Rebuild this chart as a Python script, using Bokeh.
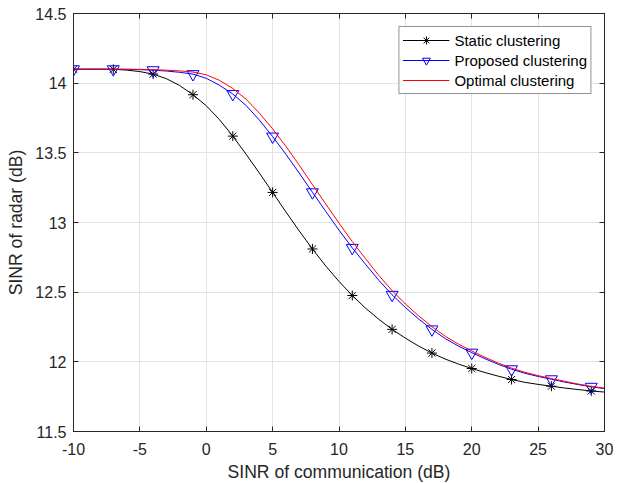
from bokeh.plotting import figure
from bokeh.models import LinearAxis, FixedTicker, Range1d, Legend, LegendItem, Title
from bokeh.embed import file_html
from bokeh.resources import INLINE

# ---- data ----
snr_db = list(range(-10, 31))  # SINR of communication (dB), 1 dB steps

static_clustering = [
    14.100, 14.100, 14.100, 14.099, 14.094, 14.083, 14.065, 14.032, 13.983, 13.917,
    13.838, 13.738, 13.620, 13.490, 13.355, 13.216, 13.076, 12.940, 12.810, 12.688,
    12.577, 12.476, 12.385, 12.305, 12.233, 12.170, 12.113, 12.063, 12.020, 11.984,
    11.952, 11.923, 11.897, 11.873, 11.853, 11.838, 11.825, 11.812, 11.801, 11.791,
    11.783,
]
proposed_clustering = [
    14.100, 14.100, 14.100, 14.100, 14.099, 14.097, 14.093, 14.087, 14.078, 14.065,
    14.035, 13.985, 13.922, 13.840, 13.735, 13.617, 13.490, 13.355, 13.217, 13.080,
    12.945, 12.818, 12.700, 12.585, 12.481, 12.390, 12.307, 12.233, 12.167, 12.113,
    12.066, 12.022, 11.982, 11.947, 11.918, 11.895, 11.875, 11.855, 11.837, 11.821,
    11.808,
]
optimal_clustering = [
    14.100, 14.100, 14.100, 14.100, 14.100, 14.099, 14.097, 14.093, 14.088, 14.080,
    14.060, 14.020, 13.962, 13.885, 13.785, 13.672, 13.547, 13.412, 13.272, 13.133,
    12.995, 12.863, 12.740, 12.620, 12.511, 12.415, 12.330, 12.253, 12.184, 12.127,
    12.078, 12.032, 11.991, 11.955, 11.925, 11.901, 11.880, 11.860, 11.841, 11.824,
    11.811,
]

x_ticks = [-10, -5, 0, 5, 10, 15, 20, 25, 30]
x_tick_labels = ["-10", "-5", "0", "5", "10", "15", "20", "25", "30"]
y_ticks = [11.5, 12.0, 12.5, 13.0, 13.5, 14.0, 14.5]
y_tick_labels = ["11.5", "12", "12.5", "13", "13.5", "14", "14.5"]

series_names = ["Static clustering", "Proposed clustering", "Optimal clustering"]
x_label = "SINR of communication (dB)"
y_label = "SINR of radar (dB)"

# markers every 3 dB (from -10 to 29)
marker_x = snr_db[0:40:3]
static_m = static_clustering[0:40:3]
proposed_m = proposed_clustering[0:40:3]

FONT = "Liberation Sans"
DARK = "#262626"

p = figure(
    width=621, height=483,
    x_range=Range1d(-10, 30), y_range=Range1d(11.5, 14.5),
    output_backend="svg", toolbar_location=None,
    min_border_left=73, min_border_right=17, min_border_top=13, min_border_bottom=50,
    y_axis_label=y_label,
)
p.background_fill_color = "white"
p.border_fill_color = "white"
p.outline_line_color = DARK
p.outline_line_width = 1

for ax, ticks, labels in ((p.xaxis[0], x_ticks, x_tick_labels), (p.yaxis[0], y_ticks, y_tick_labels)):
    ax.ticker = FixedTicker(ticks=ticks)
    ax.major_label_overrides = {t: l for t, l in zip(ticks, labels)}
    ax.major_tick_in = 5
    ax.major_tick_out = 0
    ax.minor_tick_line_color = None
    ax.axis_line_color = DARK
    ax.major_tick_line_color = DARK
    ax.major_label_text_color = DARK
    ax.major_label_text_font = FONT
    ax.major_label_text_font_size = "16px"
    ax.axis_label_text_font = FONT
    ax.axis_label_text_font_size = "17.6px"
    ax.axis_label_text_font_style = "normal"
    ax.axis_label_text_color = DARK

p.xaxis[0].major_label_standoff = 11
p.yaxis[0].major_label_standoff = 7
p.yaxis[0].axis_label_standoff = 6

for loc, ticks in (("above", x_ticks), ("right", y_ticks)):
    ax = LinearAxis(ticker=FixedTicker(ticks=ticks))
    ax.major_tick_in = 5
    ax.major_tick_out = 0
    ax.minor_tick_line_color = None
    ax.axis_line_color = DARK
    ax.major_tick_line_color = DARK
    ax.major_label_text_color = None
    ax.major_label_text_font_size = "1px"
    ax.major_label_standoff = 0
    p.add_layout(ax, loc)

# x-axis title as a Title in the bottom panel, below the tick labels
p.add_layout(Title(text=x_label, align="center", standoff=4, text_font=FONT,
                   text_font_size="17.6px", text_font_style="normal",
                   text_color=DARK), "below")

p.xgrid.ticker = FixedTicker(ticks=x_ticks)
p.ygrid.ticker = FixedTicker(ticks=y_ticks)
for g in (p.xgrid[0], p.ygrid[0]):
    g.grid_line_color = "#e3e3e3"
    g.grid_line_width = 1

l_static = p.line(snr_db, static_clustering, line_color="black", line_width=1)
m_static = p.scatter(marker_x, static_m, marker="asterisk", size=10,
                     line_color="black", line_width=1)
l_prop = p.line(snr_db, proposed_clustering, line_color="#0000ff", line_width=1)
m_prop = p.scatter(marker_x, proposed_m, marker="inverted_triangle", size=12,
                   line_color="#0000ff", fill_color=None, line_width=1)
l_opt = p.line(snr_db, optimal_clustering, line_color="#ff0000", line_width=1)

legend = Legend(
    items=[
        LegendItem(label=series_names[0], renderers=[l_static, m_static]),
        LegendItem(label=series_names[1], renderers=[l_prop, m_prop]),
        LegendItem(label=series_names[2], renderers=[l_opt]),
    ],
    location="top_right",
    margin=13,
    padding=3,
    spacing=0,
    glyph_width=47,
    glyph_height=20,
    label_height=20,
    label_standoff=5,
    label_text_font=FONT,
    label_text_font_size="15px",
    label_text_color="black",
    border_line_color=DARK,
    border_line_width=1,
    background_fill_color="white",
    background_fill_alpha=1.0,
)
p.add_layout(legend, "center")

open("out.html", "w").write(file_html(p, INLINE))
